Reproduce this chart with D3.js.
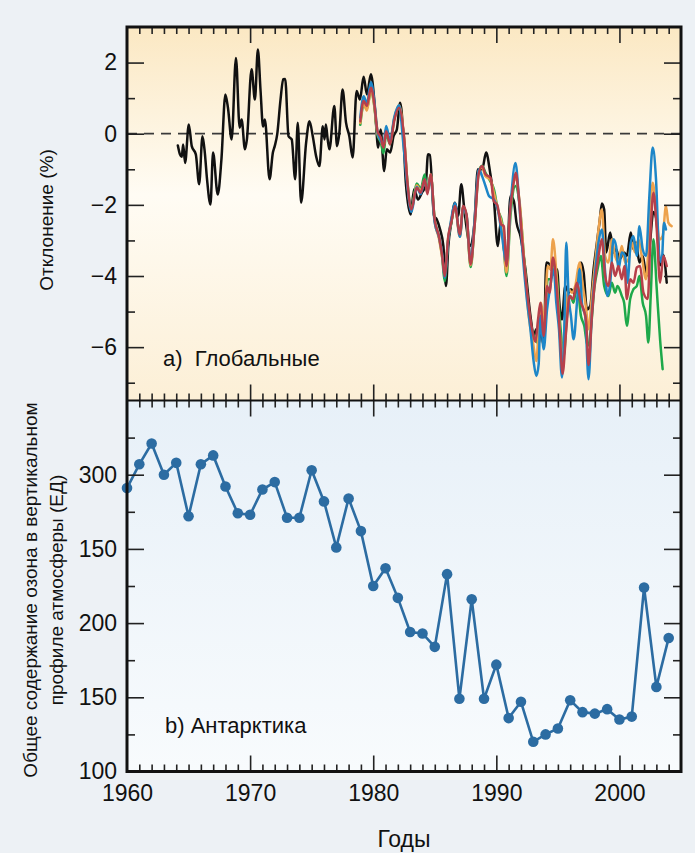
<!DOCTYPE html>
<html><head><meta charset="utf-8">
<script src="https://cdn.jsdelivr.net/npm/d3@7"></script>
<style>
body{margin:0;background:#edf1f5;}
svg{display:block;}
text{font-family:"Liberation Sans",Arial,Helvetica,sans-serif;fill:#111;}
</style>
</head><body><svg id="c" width="695" height="853"></svg>
<script>
// ---------- DATA ----------
const xTickValues = [1960,1970,1980,1990,2000];
const xTickLabels = ["1960","1970","1980","1990","2000"];
const topTickValues = [2,0,-2,-4,-6];
const topTickLabels = ["2","0","−2","−4","−6"];
const botTickValues = [100,150,200,250,300];
const botTickLabels = ["100","150","200","150","300"];

const antarcticYears = [1960,1961,1962,1963,1964,1965,1966,1967,1968,1969,1970,1971,1972,1973,1974,1975,1976,1977,1978,1979,1980,1981,1982,1983,1984,1985,1986,1987,1988,1989,1990,1991,1992,1993,1994,1995,1996,1997,1998,1999,2000,2001,2002,2003,2004];
const antarcticOzone = [291,307,321,300,308,272,307,313,292,274,273,290,295,271,271,303,282,251,284,262,225,237,217,194,193,184,233,149,216,149,172,136,147,120,125,129,148,140,139,142,135,137,224,157,190];

// global anomaly series [year, %]
const globalBlack = [[1964.13,-0.33],[1964.30,-0.58],[1964.45,-0.65],[1964.56,-0.30],[1964.72,-0.82],[1965.02,0.26],[1965.26,-0.35],[1965.59,-0.58],[1965.86,-1.42],[1966.13,-0.07],[1966.32,-0.53],[1966.50,-1.28],[1966.78,-1.99],[1966.99,-0.53],[1967.37,-1.71],[1967.67,-0.72],[1967.99,1.10],[1968.20,0.73],[1968.50,-0.16],[1968.85,2.13],[1969.15,0.17],[1969.31,0.40],[1969.58,-0.44],[1969.74,-0.16],[1970.12,1.81],[1970.39,0.96],[1970.63,2.37],[1970.85,1.20],[1971.05,0.20],[1971.20,0.40],[1971.58,-1.28],[1971.85,-0.53],[1972.00,-0.35],[1972.20,-0.02],[1972.47,0.96],[1972.69,1.53],[1972.85,1.54],[1973.12,-0.07],[1973.38,-0.16],[1973.66,-1.28],[1973.87,0.31],[1974.14,-1.94],[1974.55,-0.25],[1974.82,0.35],[1975.09,-0.07],[1975.36,-0.63],[1975.63,-0.91],[1975.90,0.21],[1976.05,-0.16],[1976.15,0.26],[1976.30,-0.16],[1976.44,-0.44],[1976.84,0.78],[1977.06,-0.35],[1977.25,0.03],[1977.51,1.24],[1977.79,0.31],[1978.06,-0.07],[1978.33,-0.67],[1978.65,1.20],[1978.92,0.96],[1979.22,1.60],[1979.49,1.10],[1979.81,1.67],[1980.08,0.96],[1980.22,0.31],[1980.40,-0.39],[1980.60,0.12],[1980.89,-1.05],[1981.10,-0.44],[1981.38,-0.53],[1981.65,-0.07],[1981.92,0.12],[1982.19,0.87],[1982.45,-0.07],[1982.65,-1.38],[1983.05,-2.27],[1983.32,-1.56],[1983.64,-1.85],[1983.95,-1.66],[1984.26,-1.47],[1984.45,-0.58],[1984.60,-0.60],[1984.94,-2.31],[1985.15,-2.40],[1985.43,-2.69],[1985.70,-3.16],[1985.91,-4.28],[1986.10,-3.16],[1986.34,-2.50],[1986.64,-1.94],[1986.90,-2.31],[1987.15,-1.42],[1987.40,-2.13],[1987.60,-2.69],[1987.85,-3.16],[1988.20,-2.60],[1988.50,-1.00],[1988.85,-1.00],[1989.17,-0.53],[1989.50,-1.10],[1989.80,-1.85],[1990.12,-3.16],[1990.35,-2.50],[1990.83,-3.72],[1991.15,-1.75],[1991.42,-1.89],[1991.64,-2.50],[1991.96,-2.88],[1992.36,-3.81],[1992.77,-5.12],[1993.04,-5.68],[1993.25,-5.50],[1993.44,-5.92],[1993.60,-5.50],[1993.85,-5.97],[1994.06,-3.62],[1994.33,-3.67],[1994.60,-3.90],[1994.93,-3.81],[1995.14,-4.84],[1995.33,-5.22],[1995.60,-4.28],[1995.87,-4.47],[1996.06,-4.37],[1996.41,-4.51],[1996.60,-4.00],[1996.87,-3.62],[1997.09,-3.90],[1997.36,-4.94],[1997.63,-4.84],[1997.90,-3.81],[1998.17,-3.06],[1998.38,-2.50],[1998.57,-1.96],[1998.76,-2.13],[1998.92,-3.34],[1999.25,-2.78],[1999.52,-3.34],[1999.73,-3.25],[2000.00,-3.53],[2000.38,-3.34],[2000.60,-3.44],[2000.92,-2.78],[2001.14,-3.25],[2001.35,-3.06],[2001.62,-3.62],[2001.89,-3.44],[2002.20,-4.00],[2002.50,-3.00],[2002.75,-2.20],[2003.00,-2.40],[2003.30,-3.70],[2003.55,-3.40],[2003.84,-4.19]];

const globalGreen = [[1978.95,0.25],[1979.22,0.80],[1979.49,0.70],[1979.81,1.20],[1980.08,0.80],[1980.35,-0.05],[1980.62,-0.25],[1980.84,-0.55],[1981.05,0.00],[1981.37,-0.30],[1981.70,0.40],[1982.10,0.70],[1982.51,-0.15],[1982.78,-1.35],[1983.10,-2.10],[1983.53,-1.40],[1983.86,-1.55],[1984.18,-1.15],[1984.40,-1.60],[1984.67,-1.15],[1984.99,-2.40],[1985.34,-2.90],[1985.61,-3.50],[1985.80,-4.15],[1986.10,-2.95],[1986.34,-2.50],[1986.64,-2.05],[1987.04,-2.85],[1987.31,-2.05],[1987.58,-2.30],[1987.91,-3.75],[1988.23,-2.60],[1988.58,-1.05],[1988.85,-0.90],[1989.12,-1.10],[1989.53,-1.35],[1989.80,-1.56],[1990.12,-2.13],[1990.47,-2.50],[1990.83,-4.00],[1991.15,-2.31],[1991.55,-1.47],[1991.90,-2.03],[1992.28,-3.62],[1992.72,-5.22],[1993.04,-5.68],[1993.31,-5.87],[1993.58,-5.12],[1993.90,-5.50],[1994.17,-4.09],[1994.44,-4.09],[1994.66,-3.53],[1994.93,-4.09],[1995.20,-5.40],[1995.47,-6.25],[1995.74,-5.12],[1996.01,-4.56],[1996.28,-4.75],[1996.55,-4.19],[1996.87,-5.12],[1997.14,-5.40],[1997.41,-5.97],[1997.68,-5.50],[1997.95,-4.37],[1998.22,-3.81],[1998.49,-3.44],[1998.76,-4.28],[1999.11,-4.56],[1999.38,-4.19],[1999.65,-4.47],[1999.84,-4.28],[2000.19,-4.56],[2000.38,-4.75],[2000.60,-5.40],[2000.87,-4.65],[2001.14,-4.37],[2001.41,-4.28],[2001.62,-4.00],[2001.89,-4.75],[2002.16,-5.12],[2002.35,-5.87],[2002.54,-4.56],[2002.76,-2.97],[2003.03,-4.37],[2003.30,-5.78],[2003.51,-6.62]];

const globalOrange = [[1978.95,0.30],[1979.22,0.85],[1979.49,0.65],[1979.81,1.25],[1980.08,0.80],[1980.35,0.00],[1980.62,-0.20],[1980.84,-0.35],[1981.05,0.05],[1981.37,-0.25],[1981.70,0.40],[1982.10,0.80],[1982.51,-0.15],[1982.78,-1.40],[1983.10,-2.15],[1983.53,-1.45],[1983.86,-1.60],[1984.18,-1.30],[1984.40,-1.65],[1984.67,-1.15],[1984.99,-2.45],[1985.34,-2.95],[1985.61,-3.50],[1985.80,-3.95],[1986.10,-2.90],[1986.34,-2.45],[1986.64,-2.05],[1987.04,-2.90],[1987.31,-2.05],[1987.58,-2.35],[1987.91,-3.70],[1988.23,-2.55],[1988.58,-1.05],[1988.85,-0.95],[1989.12,-1.20],[1989.53,-1.30],[1989.80,-1.66],[1990.12,-2.13],[1990.47,-2.60],[1990.83,-3.90],[1991.15,-2.13],[1991.55,-1.28],[1991.90,-1.94],[1992.23,-3.44],[1992.63,-5.12],[1992.98,-5.87],[1993.25,-6.39],[1993.44,-5.50],[1993.63,-4.75],[1993.90,-5.31],[1994.17,-3.72],[1994.39,-3.81],[1994.60,-2.97],[1994.87,-3.90],[1995.14,-5.50],[1995.36,-6.43],[1995.60,-5.12],[1995.87,-4.37],[1996.14,-4.47],[1996.41,-4.28],[1996.76,-3.62],[1997.03,-4.28],[1997.30,-4.94],[1997.49,-5.50],[1997.76,-4.56],[1998.03,-3.62],[1998.30,-2.69],[1998.57,-2.13],[1998.84,-3.44],[1999.11,-3.62],[1999.38,-2.97],[1999.65,-3.44],[1999.92,-3.62],[2000.19,-3.16],[2000.46,-3.62],[2000.73,-3.53],[2001.00,-3.06],[2001.27,-3.34],[2001.54,-2.97],[2001.81,-3.44],[2002.16,-4.09],[2002.43,-2.69],[2002.70,-1.38],[2002.97,-2.13],[2003.24,-2.97],[2003.51,-2.88],[2003.78,-2.03],[2003.97,-2.50],[2004.24,-2.60]];

const globalBlue = [[1978.95,0.45],[1979.22,1.05],[1979.49,0.85],[1979.81,1.45],[1980.08,0.95],[1980.35,0.05],[1980.62,-0.20],[1980.84,-0.30],[1981.05,0.22],[1981.37,-0.20],[1981.70,0.45],[1982.10,0.80],[1982.45,-0.30],[1982.78,-1.50],[1983.10,-2.20],[1983.53,-1.50],[1983.86,-1.70],[1984.18,-1.30],[1984.40,-1.65],[1984.67,-1.20],[1984.99,-2.50],[1985.34,-2.90],[1985.61,-3.40],[1985.80,-4.05],[1986.10,-2.95],[1986.34,-2.40],[1986.64,-1.95],[1987.04,-2.90],[1987.31,-2.10],[1987.58,-2.30],[1987.91,-3.60],[1988.23,-2.45],[1988.58,-1.00],[1988.85,-1.20],[1989.12,-1.47],[1989.40,-1.75],[1989.80,-1.85],[1990.12,-2.13],[1990.39,-2.69],[1990.83,-3.62],[1991.15,-2.03],[1991.55,-0.82],[1991.82,-1.75],[1992.09,-3.16],[1992.45,-4.56],[1992.77,-5.50],[1993.04,-6.43],[1993.25,-6.81],[1993.44,-6.48],[1993.58,-5.12],[1993.85,-6.06],[1994.12,-4.94],[1994.39,-4.28],[1994.66,-3.81],[1994.87,-4.75],[1995.09,-5.50],[1995.33,-6.85],[1995.52,-5.50],[1995.68,-3.06],[1995.87,-4.56],[1996.06,-5.12],[1996.28,-5.78],[1996.55,-4.75],[1996.76,-3.81],[1996.98,-4.84],[1997.22,-5.12],[1997.49,-6.90],[1997.76,-5.03],[1998.03,-3.90],[1998.30,-3.06],[1998.57,-2.69],[1998.84,-3.90],[1999.03,-4.56],[1999.25,-4.19],[1999.52,-2.97],[1999.73,-3.16],[1999.92,-3.81],[2000.19,-3.34],[2000.46,-3.44],[2000.65,-4.19],[2000.92,-3.06],[2001.14,-2.88],[2001.41,-3.44],[2001.62,-2.60],[2001.89,-3.25],[2002.16,-3.44],[2002.43,-1.75],[2002.70,-0.39],[2002.97,-1.28],[2003.24,-3.44],[2003.43,-3.62],[2003.62,-2.50],[2003.78,-2.69]];

const globalRed = [[1978.95,0.35],[1979.22,0.92],[1979.49,0.78],[1979.81,1.29],[1980.08,0.87],[1980.35,0.07],[1980.62,-0.11],[1980.84,-0.39],[1981.05,0.07],[1981.37,-0.30],[1981.70,0.35],[1982.10,0.73],[1982.51,-0.11],[1982.78,-1.38],[1983.10,-2.13],[1983.53,-1.52],[1983.86,-1.66],[1984.18,-1.28],[1984.40,-1.70],[1984.67,-1.14],[1984.99,-2.41],[1985.34,-2.88],[1985.61,-3.44],[1985.80,-4.00],[1986.10,-2.88],[1986.34,-2.50],[1986.64,-2.03],[1987.04,-2.83],[1987.31,-2.03],[1987.58,-2.27],[1987.91,-3.67],[1988.23,-2.60],[1988.58,-1.10],[1988.85,-0.91],[1989.12,-1.14],[1989.53,-1.24],[1989.80,-1.90],[1990.07,-2.00],[1990.39,-2.55],[1990.61,-2.60],[1990.83,-3.72],[1991.10,-2.22],[1991.37,-1.47],[1991.58,-1.10],[1991.82,-1.75],[1992.09,-2.97],[1992.36,-4.00],[1992.63,-4.84],[1992.90,-5.50],[1993.17,-5.85],[1993.39,-5.22],[1993.58,-4.75],[1993.85,-5.68],[1994.12,-4.28],[1994.33,-4.47],[1994.60,-3.48],[1994.87,-4.19],[1995.14,-5.50],[1995.38,-6.75],[1995.68,-5.50],[1995.95,-4.56],[1996.22,-4.65],[1996.55,-4.19],[1996.87,-4.75],[1997.09,-4.94],[1997.30,-5.31],[1997.49,-6.50],[1997.76,-5.12],[1998.03,-4.09],[1998.30,-3.44],[1998.57,-2.97],[1998.84,-4.00],[1999.11,-4.28],[1999.38,-3.62],[1999.65,-4.00],[1999.92,-3.72],[2000.19,-4.09],[2000.41,-3.72],[2000.60,-4.65],[2000.87,-4.09],[2001.14,-4.19],[2001.41,-3.76],[2001.68,-3.72],[2001.95,-4.47],[2002.30,-4.65],[2002.54,-2.69],[2002.76,-1.66],[2003.03,-2.69],[2003.30,-4.19],[2003.57,-3.44],[2003.84,-3.72]];

// ---------- LAYOUT ----------
const svg = d3.select("#c");
const L = 127, R = 681, T = 27, M = 400.5, B = 771.5;
const x = d3.scaleLinear().domain([1960,2005]).range([L,R]);
const yTop = d3.scaleLinear().domain([-7.5,3]).range([M,T]);
const yBot = d3.scaleLinear().domain([100,350]).range([B,M]);

const defs = svg.append("defs");
const g1 = defs.append("linearGradient").attr("id","gTop").attr("x1",0).attr("y1",0).attr("x2",0).attr("y2",1);
g1.append("stop").attr("offset","0%").attr("stop-color","#fbe8c3");
g1.append("stop").attr("offset","45%").attr("stop-color","#fffcf4");
g1.append("stop").attr("offset","100%").attr("stop-color","#fcefd6");
const g2 = defs.append("linearGradient").attr("id","gBot").attr("x1",0).attr("y1",0).attr("x2",0).attr("y2",1);
g2.append("stop").attr("offset","0%").attr("stop-color","#e7f0f8");
g2.append("stop").attr("offset","100%").attr("stop-color","#f8fbfd");
defs.append("clipPath").attr("id","clipTop").append("rect").attr("x",L).attr("y",T).attr("width",R-L).attr("height",M-T);

svg.append("rect").attr("x",L).attr("y",T).attr("width",R-L).attr("height",M-T).attr("fill","url(#gTop)");
svg.append("rect").attr("x",L).attr("y",M).attr("width",R-L).attr("height",B-M).attr("fill","url(#gBot)");

// zero dashed line
svg.append("line").attr("x1",L).attr("x2",R).attr("y1",yTop(0)).attr("y2",yTop(0))
  .attr("stroke","#3a3a3a").attr("stroke-width",1.8).attr("stroke-dasharray","10,7");

// ---------- TOP LINES ----------
const line = d3.line().x(d=>x(d[0])).y(d=>yTop(d[1])).curve(d3.curveMonotoneX);
const gl = svg.append("g").attr("clip-path","url(#clipTop)");
const series = [
  {d: globalBlack, c:"#111111"},
  {d: globalGreen, c:"#1ea84a"},
  {d: globalOrange, c:"#eda24c"},
  {d: globalBlue, c:"#1d86c8"},
  {d: globalRed, c:"#b7404a"}
];
series.forEach(s=>{
  gl.append("path").attr("d",line(s.d)).attr("fill","none").attr("stroke",s.c)
    .attr("stroke-width",2.5).attr("stroke-linejoin","round").attr("stroke-linecap","round");
});

// ---------- BOTTOM LINE ----------
const ant = antarcticYears.map((y,i)=>[y,antarcticOzone[i]]);
const line2 = d3.line().x(d=>x(d[0])).y(d=>yBot(d[1]));
svg.append("path").attr("d",line2(ant)).attr("fill","none").attr("stroke","#2c6ca2").attr("stroke-width",2.6);
svg.append("g").selectAll("circle").data(ant).join("circle")
  .attr("cx",d=>x(d[0])).attr("cy",d=>yBot(d[1])).attr("r",5.3).attr("fill","#2c6ca2");

// ---------- AXES ----------
const years = d3.range(1961,2005);
const minorYears = years.filter(y=>y%10!==0);
const majorYears = years.filter(y=>y%10===0);
function styleAxis(g){ g.select(".domain").remove(); g.selectAll("line").attr("stroke","#222").attr("stroke-width",1.6); g.selectAll("text").attr("font-size",23).attr("fill","#111"); }

[[T,d3.axisTop],[M,d3.axisBottom],[M,d3.axisTop],[B,d3.axisBottom]].forEach(([yy,ax])=>{
  svg.append("g").attr("transform",`translate(0,${yy})`).call(ax(x).tickValues(minorYears).tickSize(-7).tickFormat("")).call(styleAxis);
  svg.append("g").attr("transform",`translate(0,${yy})`).call(ax(x).tickValues(majorYears).tickSize(-16).tickFormat("")).call(styleAxis);
});
// bottom labels
svg.append("g").attr("transform",`translate(0,${B})`)
  .call(d3.axisBottom(x).tickValues(xTickValues).tickSize(0).tickPadding(13).tickFormat((d,i)=>xTickLabels[i]))
  .call(styleAxis);

// top panel y axes
const topMinor = [-7,-5,-3,-1,1];
svg.append("g").attr("transform",`translate(${L},0)`).call(d3.axisLeft(yTop).tickValues(topTickValues).tickSize(-17).tickPadding(10).tickFormat((d,i)=>topTickLabels[i])).call(styleAxis);
svg.append("g").attr("transform",`translate(${L},0)`).call(d3.axisLeft(yTop).tickValues(topMinor).tickSize(-8).tickFormat("")).call(styleAxis);
svg.append("g").attr("transform",`translate(${R},0)`).call(d3.axisRight(yTop).tickValues(topTickValues).tickSize(-17).tickFormat("")).call(styleAxis);
svg.append("g").attr("transform",`translate(${R},0)`).call(d3.axisRight(yTop).tickValues(topMinor).tickSize(-8).tickFormat("")).call(styleAxis);

// bottom panel y axes
const botMinor = [125,175,225,275,325];
const botMajorTicks = botTickValues.filter(v=>v>100);
svg.append("g").attr("transform",`translate(${L},0)`).call(d3.axisLeft(yBot).tickValues(botTickValues).tickSize(-17).tickPadding(10).tickFormat((d,i)=>botTickLabels[i])).call(styleAxis);
svg.append("g").attr("transform",`translate(${L},0)`).call(d3.axisLeft(yBot).tickValues(botMinor).tickSize(-8).tickFormat("")).call(styleAxis);
svg.append("g").attr("transform",`translate(${R},0)`).call(d3.axisRight(yBot).tickValues(botMajorTicks).tickSize(-17).tickFormat("")).call(styleAxis);
svg.append("g").attr("transform",`translate(${R},0)`).call(d3.axisRight(yBot).tickValues(botMinor).tickSize(-8).tickFormat("")).call(styleAxis);

// ---------- FRAME ----------
svg.append("rect").attr("x",L).attr("y",T).attr("width",R-L).attr("height",B-T).attr("fill","none").attr("stroke","#111").attr("stroke-width",3);
svg.append("line").attr("x1",L).attr("x2",R).attr("y1",M).attr("y2",M).attr("stroke","#111").attr("stroke-width",2);

// ---------- TEXTS ----------
svg.append("text").attr("x",163).attr("y",366).attr("font-size",22).style("white-space","pre").text("a)  Глобальные");
svg.append("text").attr("x",165).attr("y",733).attr("font-size",22).text("b) Антарктика");
svg.append("text").attr("x",404).attr("y",847).attr("font-size",23).attr("text-anchor","middle").text("Годы");
svg.append("text").attr("transform","translate(53,220) rotate(-90)").attr("font-size",19).attr("text-anchor","middle").text("Отклонение (%)");
svg.append("text").attr("transform","translate(37,590) rotate(-90)").attr("font-size",19).attr("text-anchor","middle").text("Общее содержание озона в вертикальном");
svg.append("text").attr("transform","translate(63,590) rotate(-90)").attr("font-size",19).attr("text-anchor","middle").text("профиле атмосферы (ЕД)");
</script>
</body></html>
